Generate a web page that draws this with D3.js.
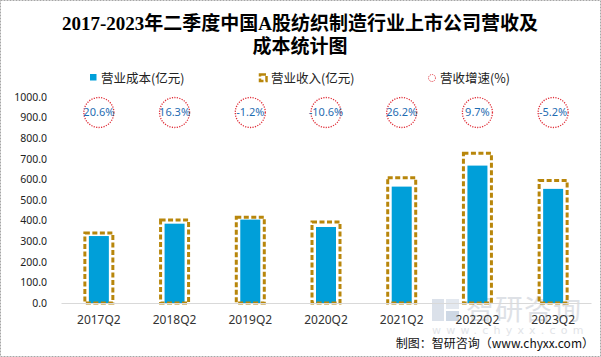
<!DOCTYPE html>
<html>
<head>
<meta charset="utf-8">
<script src="https://cdn.jsdelivr.net/npm/d3@7/dist/d3.min.js"></script>
<style>
  html, body { margin: 0; padding: 0; background: #fff; }
  svg { display: block; }
</style>
</head>
<body>
<svg id="chart" width="601" height="357"></svg>
<script>
const categories = ["2017Q2", "2018Q2", "2019Q2", "2020Q2", "2021Q2", "2022Q2", "2023Q2"];
const costValues = [325, 385, 405, 369, 565, 667, 554];
const revenueValues = [347, 410, 424, 401, 615, 734, 602];
const growthValues = [20.6, 16.3, -1.2, -10.6, 26.2, 9.7, -5.2];
const yTicks = [0, 100, 200, 300, 400, 500, 600, 700, 800, 900, 1000];
const titleLines = ["2017-2023年二季度中国A股纺织制造行业上市公司营收及", "成本统计图"];
const legendLabels = ["营业成本(亿元)", "营业收入(亿元)", "营收增速(%)"];
const sourceText = "制图：智研咨询（www.chyxx.com）";

const svg = d3.select("#chart");
const W = 601, H = 357;
const cjk = "'Noto Sans CJK SC', 'Noto Sans', sans-serif";
const blue = "#009FD9", gold = "#B8860B", red = "#E0303A";

// border
svg.append("rect").attr("x", 0.5).attr("y", 0.5).attr("width", W - 1).attr("height", H - 1)
  .attr("fill", "#fff").attr("stroke", "#A6A6A6").attr("stroke-dasharray", "2,1");

// watermark
const wm = svg.append("g").attr("opacity", 0.5);
wm.append("rect").attr("x", 432).attr("y", 299).attr("width", 12).attr("height", 22).attr("fill", "#B8C4D6");
wm.append("rect").attr("x", 446).attr("y", 299).attr("width", 13).attr("height", 10).attr("fill", "#C9D2E0");
wm.append("rect").attr("x", 446).attr("y", 311).attr("width", 13).attr("height", 10).attr("fill", "#9FB3CC");
wm.append("text").attr("x", 466).attr("y", 320).attr("font-family", cjk).attr("font-size", 28)
  .attr("fill", "#BFC5CE").attr("letter-spacing", 1).text("智研咨询");
wm.append("text").attr("x", 432).attr("y", 334).attr("font-family", "'DejaVu Sans', sans-serif").attr("font-size", 11)
  .attr("fill", "#C5CAD2").attr("letter-spacing", 5.2).text("www.chyxx.com");

// title
svg.append("g").selectAll("text").data(titleLines).join("text")
  .attr("x", 300).attr("y", (d, i) => 30 + i * 23)
  .attr("text-anchor", "middle")
  .attr("font-family", "'Liberation Serif', 'Noto Sans CJK SC', serif")
  .attr("font-weight", "bold").attr("font-size", 19).attr("fill", "#000")
  .text(d => d);

// scales
const x = d3.scaleBand().domain(categories).range([61, 591]);
const y = d3.scaleLinear().domain([0, 1000]).range([303, 97]);

// y axis labels
const yAxis = d3.axisLeft(y).tickValues(yTicks).tickFormat(d3.format(".1f")).tickSize(0).tickPadding(0);
const yg = svg.append("g").attr("transform", "translate(47,0)").call(yAxis);
yg.select(".domain").remove();
yg.selectAll("text").attr("font-family", "'Noto Sans', sans-serif").attr("font-size", 10.5).attr("fill", "#222");

// bars (cost)
svg.append("g").selectAll("rect").data(categories).join("rect")
  .attr("x", d => x(d) + x.bandwidth() / 2 - 10)
  .attr("width", 20)
  .attr("y", (d, i) => y(costValues[i]))
  .attr("height", (d, i) => y(0) - y(costValues[i]))
  .attr("fill", blue);

// dashed boxes (revenue)
svg.append("g").selectAll("rect").data(categories).join("rect")
  .attr("x", d => x(d) + x.bandwidth() / 2 - 14)
  .attr("width", 28)
  .attr("y", (d, i) => y(revenueValues[i]) + 1.5)
  .attr("height", (d, i) => y(0) - y(revenueValues[i]) - 1.5)
  .attr("fill", "none").attr("stroke", gold).attr("stroke-width", 3)
  .attr("stroke-dasharray", "5,2.5");

// x axis
const xAxis = d3.axisBottom(x).tickSize(0).tickPadding(12);
const xg = svg.append("g").attr("transform", `translate(0,${y(0)})`).call(xAxis);
xg.select(".domain").attr("stroke", "#D9D9D9").attr("stroke-width", 1);
xg.selectAll("text").attr("font-family", "'Noto Sans', sans-serif").attr("font-size", 12).attr("fill", "#333");

// growth circles
const gg = svg.append("g").selectAll("g").data(categories).join("g")
  .attr("transform", d => `translate(${x(d) + x.bandwidth() / 2},112.5)`);
gg.append("circle").attr("r", 15).attr("fill", "none").attr("stroke", red)
  .attr("stroke-width", 1.3).attr("stroke-dasharray", "1.2,1.3");
gg.append("text").attr("text-anchor", "middle").attr("dy", "0.36em")
  .attr("font-family", "'Noto Sans', sans-serif").attr("font-size", 11).attr("fill", "#1F6DB2")
  .text((d, i) => growthValues[i].toFixed(1) + "%");

// legend
const lg = svg.append("g").attr("font-family", cjk).attr("font-size", 12.5).attr("fill", "#222");
lg.append("rect").attr("x", 90).attr("y", 74).attr("width", 6.5).attr("height", 6.5).attr("fill", blue);
lg.append("text").attr("x", 101).attr("y", 82.5).text(legendLabels[0]);
lg.append("rect").attr("x", 260).attr("y", 74.5).attr("width", 6.5).attr("height", 6.5)
  .attr("fill", "none").attr("stroke", gold).attr("stroke-width", 2.5).attr("stroke-dasharray", "6,2");
lg.append("text").attr("x", 271).attr("y", 82.5).text(legendLabels[1]);
lg.append("circle").attr("cx", 432).attr("cy", 78).attr("r", 3.5).attr("fill", "none")
  .attr("stroke", red).attr("stroke-width", 1).attr("stroke-dasharray", "1,1");
lg.append("text").attr("x", 440).attr("y", 82.5).text(legendLabels[2]);

// source
svg.append("text").attr("x", 594).attr("y", 348).attr("text-anchor", "end")
  .attr("font-family", cjk).attr("font-size", 12).attr("fill", "#111").text(sourceText);
</script>
</body>
</html>
